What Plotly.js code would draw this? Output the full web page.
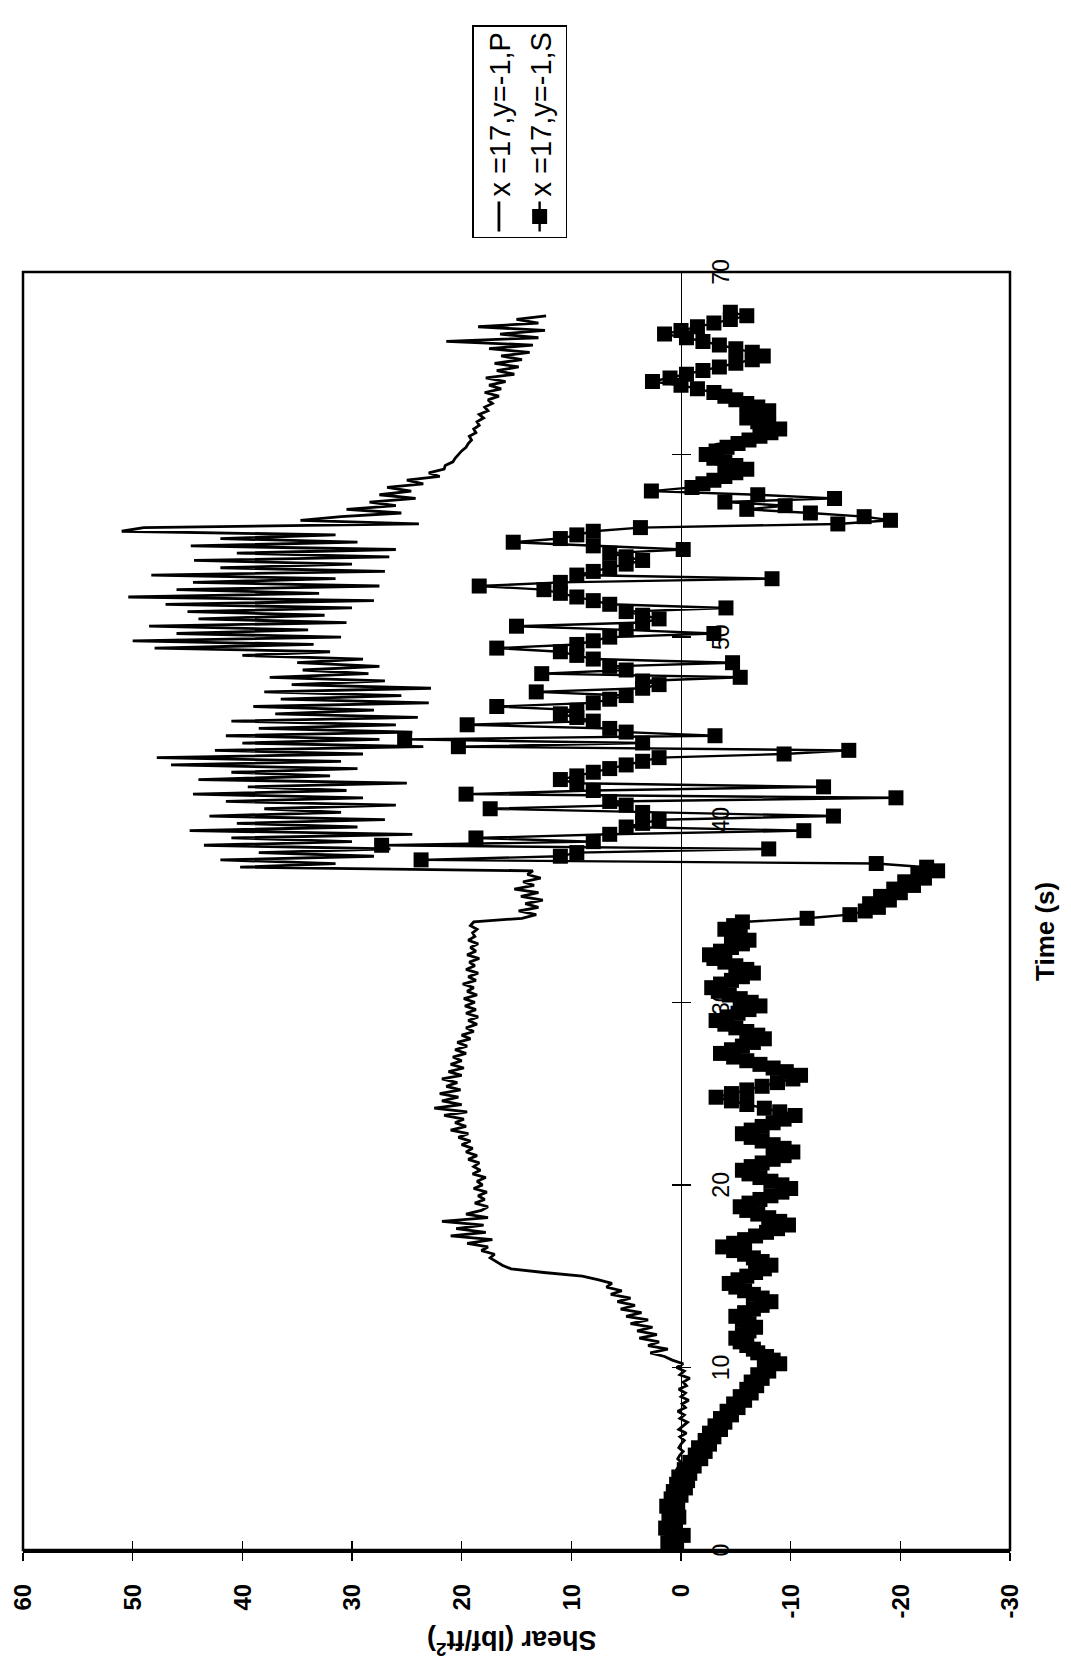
<!DOCTYPE html>
<html><head><meta charset="utf-8">
<script src="https://cdn.plot.ly/plotly-3.0.1.min.js"></script>
<style>
html,body{margin:0;padding:0;width:1071px;height:1663px;overflow:hidden;background:#fff;}
#chart{position:absolute;left:0;top:0;width:1663px;height:1071px;transform-origin:0 0;transform:translate(0px,1663px) rotate(-90deg);}
</style></head><body><div id="chart"></div>
<script>
// sampling of both series (s)
const timeStart = 0;
const timeStep = 0.2;

// series P: x =17, y=-1, P  (t = 0 .. 67.6 s)
const shearP = [
 0.5,0.6,0.4,0.7,0.5,0.3,0.6,0.8,0.5,0.4, 0.6,0.5,0.7,0.4,0.5,0.3,0.6,0.4,0.2,0.5,
 0.3,0.1,0.4,0.2,0.0,0.3,0.1,-0.2,0.2,0.0, -0.3,0.1,-0.5,0.2,-0.2,-0.6,0.1,-0.3,0.3,-0.4,
 -0.1,-0.7,0.0,-0.4,0.2,-0.5,-0.2,-0.8,0.1,-0.3, 0.4,-0.2,0.8,
 1.5,2.8,1.2,3.0,2.0,3.8,2.2,4.0,2.6,4.6, 3.0,5.0,3.6,5.5,4.2,5.8,4.6,6.4,5.4,6.8,
 6.3,7.5,9.0,12.5,15.5,
 16.3,16.8,17.4,17.0,18.2,17.6,19.5,17.2,21.0,17.8, 20.5,18.0,21.8,17.6,19.6,18.2,17.6,18.8,17.9,18.5,
 17.7,18.9,18.1,18.6,17.8,19.0,18.3,18.9,18.4,19.4, 18.6,19.6,19.0,20.0,19.2,20.3,19.4,21.0,19.6,20.6,
 19.8,21.6,19.5,22.5,20.0,21.8,20.3,22.0,20.1,21.4, 20.4,21.8,20.0,21.2,19.8,21.0,20.0,20.8,19.6,20.6,
 19.5,20.4,19.2,20.0,18.9,19.6,18.6,19.4,18.5,19.6, 18.7,19.7,18.8,19.8,18.6,19.5,18.9,19.9,18.7,19.4,
 18.5,19.6,18.8,19.3,18.4,19.5,18.7,19.2,18.5,19.4, 18.8,19.0,18.6,19.2,18.9,
 14.5,13.2,14.8,13.0,14.2,12.6,14.6,13.0,15.2,13.4,14.4,12.8,14.0,13.5,
 40.2,31.5,42.0,28.0,38.5,26.5,43.5,30.0,41.0,24.5, 44.8,29.5,40.5,27.0,43.0,31.0,38.0,26.0,41.5,29.0,
 44.5,30.5,39.5,25.0,44.0,32.0,41.0,29.5,46.5,31.0, 47.8,29.0,42.5,23.5,40.0,27.5,41.5,24.5,38.5,26.0,
 41.0,24.0,37.0,28.0,39.0,23.0,36.5,25.5,38.0,22.8, 35.5,27.0,37.5,28.5,34.5,27.5,35.0,29.0,40.0,32.0,
 48.0,33.5,50.0,31.0,46.0,34.0,48.5,30.5,44.0,32.5, 45.0,30.0,47.0,28.0,50.4,33.0,46.0,27.5,44.5,31.5,
 48.3,27.0,42.0,30.0,44.4,26.6,40.5,26.0,44.7,29.5, 42.0,31.5,51.0,49.0,
 23.9,34.7,31.0,25.5,30.5,26.0,28.4,24.2,27.5,24.6, 26.8,23.5,25.0,22.0,23.0,21.6,21.5,20.8,20.6,20.3,
 20.0,19.6,19.4,19.1,19.3,18.7,18.9,18.4,18.6,18.0, 18.4,17.6,17.9,17.2,17.6,16.6,17.9,16.4,17.5,16.0,
 17.8,15.2,16.8,14.8,17.0,14.5,16.4,13.8,17.5,13.5, 21.4,13.0,16.5,12.4,18.5,13.0,15.0,12.3
];

// series S: x =17, y=-1, S  (t = 0 .. 67.8 s)
const shearS = [
 1.0,0.4,1.2,0.6,-0.2,0.8,1.4,0.5,0.9,0.2, 1.1,0.6,1.3,0.3,0.9,0.0,0.7,-0.4,0.4,-0.6,
 0.2,-0.8,-0.3,-1.2,-0.8,-1.8,-1.3,-2.2,-1.6,-2.6, -2.2,-3.0,-2.6,-3.6,-3.1,-4.0,-3.6,-4.6,-4.2,-5.2,
 -4.8,-5.8,-5.4,-6.4,-6.0,-6.9,-6.4,-7.4,-7.0,-8.0, -7.6,-9.0,-8.4,-7.8,-7.0,
 -6.6,-6.0,-5.4,-5.0,-5.6,-6.2,-6.8,-6.2,-5.6,-5.0, -5.8,-6.6,-7.4,-8.2,-7.4,-6.6,-5.8,-5.0,-4.4,-5.2,
 -6.0,-6.8,-7.6,-8.2,-7.4,-6.6,-5.8,-4.8,-3.8,-4.8, -5.8,-6.8,-7.8,-8.8,-9.8,-9.0,-8.0,-7.0,-6.0,-5.4,
 -6.2,-7.2,-8.2,-9.2,-10.0,-9.2,-8.2,-7.2,-6.2,-5.6, -6.4,-7.4,-8.4,-9.4,-10.2,-9.4,-8.4,-7.4,-6.4,-5.6,
 -6.4,-7.4,-8.4,-9.4,-10.4,-9.0,-7.6,-6.0,-4.6,-3.2, -4.6,-6.0,-7.4,-8.8,-10.2,-10.9,-9.6,-8.4,-7.2,-6.0,
 -4.8,-3.6,-4.6,-5.6,-6.6,-7.6,-7.0,-6.0,-5.0,-4.0, -3.2,-4.2,-5.2,-6.2,-7.2,-6.4,-5.4,-4.4,-3.4,-2.8,
 -3.6,-4.6,-5.6,-6.6,-6.0,-5.0,-4.0,-3.0,-2.6,-3.6, -4.6,-5.6,-6.2,-5.4,-4.6,-4.0,-4.8,-5.6,
 -11.5,-15.4,-16.8,-18.0,-17.2,-19.0,-18.2,-20.0,-19.4,-21.2,-20.4,-22.2,-21.6,-23.4,-22.4,-17.8,
 23.7,11.0,9.5,-8.0,27.3,8.0,18.7,6.5,-11.2,5.0, 3.5,2.0,-13.9,3.5,17.4,5.0,6.5,-19.6,19.6,8.0,
 -13.0,9.5,11.0,9.5,8.0,6.5,5.0,3.5,2.0,-9.4, -15.3,20.3,3.5,25.2,-3.1,5.0,6.5,19.5,8.0,9.5,
 11.0,9.5,16.8,8.0,6.5,5.0,13.2,3.5,2.0,3.5, -5.4,12.7,5.0,6.5,-4.7,8.0,9.5,11.0,16.8,9.5,
 8.0,6.5,-3.0,5.0,15.0,3.5,2.0,3.5,5.0,-4.1, 6.5,8.0,9.5,11.0,12.5,18.4,11.0,-8.3,9.5,8.0,
 6.5,5.0,3.5,5.0,6.5,-0.2,8.0,15.3,11.0,9.5, 8.0,3.7,
 -14.3,-19.1,-16.7,-11.8,-6.0,-9.5,-4.0,-14.0,-7.0,2.7, -1.0,-2.0,-3.0,-4.0,-5.0,-6.0,-5.0,-4.0,-3.0,-2.3,
 -3.2,-4.2,-5.2,-6.2,-7.2,-8.2,-9.0,-8.0,-7.0,-6.0, -7.0,-8.0,-7.0,-6.0,-5.0,-4.0,-3.0,-1.5,0.0,2.6,
 1.0,-0.5,-2.0,-3.5,-5.0,-6.5,-7.5,-6.5,-5.0,-3.5, -2.0,-0.5,1.5,0.0,-1.5,-3.0,-4.5,-6.0,-4.5
];

const legendNames = ['x =17,y=-1,P', 'x =17,y=-1,S'];
const timeTicks = [0, 10, 20, 30, 40, 50, 60, 70];
const shearTicks = [-30, -20, -10, 0, 10, 20, 30, 40, 50, 60];
const timeTitle = 'Time (s)';
const shearTitle = 'Shear (lbf/ft<sup>2</sup>)';

const FONT = 'Liberation Sans, Arial, Helvetica, sans-serif';

const traces = [
  {type:'scatter', mode:'lines', name:legendNames[0], x0:timeStart, dx:timeStep, y:shearP,
   line:{color:'#000', width:2.8}},
  {type:'scatter', mode:'lines+markers', name:legendNames[1], x0:timeStart, dx:timeStep, y:shearS,
   line:{color:'#000', width:2.4}, marker:{symbol:'square', size:15, color:'#000'}},
  {type:'scatter', mode:'markers', x:[], y:[], xaxis:'x2', yaxis:'y2', showlegend:false, hoverinfo:'skip'}
];

const layout = {
  width:1663, height:1071,
  margin:{l:113, r:272, t:23, b:61, pad:0},
  paper_bgcolor:'#fff', plot_bgcolor:'#fff',
  font:{family:FONT, color:'#000'},
  showlegend:true,
  xaxis:{range:[0,70], tickvals:timeTicks, ticktext:timeTicks.map(String), anchor:'free', position:1/3,
         showline:true, linecolor:'#000', linewidth:1.2, ticks:'outside', ticklen:9, tickwidth:1.5, tickcolor:'#000',
         tickfont:{size:23, family:FONT, color:'#000'}, ticklabelstandoff:10,
         showgrid:false, zeroline:false, layer:'below traces'},
  xaxis2:{range:[0,70], tickvals:timeTicks, overlaying:'x', anchor:'free', position:1/3,
         showline:false, ticks:'inside', ticklen:9, tickwidth:1.5, tickcolor:'#000', showticklabels:false,
         showgrid:false, zeroline:false, layer:'below traces'},
  yaxis:{range:[-30,60], tickvals:shearTicks, ticktext:shearTicks.map(String),
         showline:true, linecolor:'#000', linewidth:3, ticks:'outside', ticklen:8, tickwidth:1.5, tickcolor:'#000',
         tickfont:{size:24, family:FONT, color:'#000', weight:'bold'}, ticklabelstandoff:18,
         showgrid:false, zeroline:false},
  yaxis2:{range:[-30,60], tickvals:shearTicks, overlaying:'y', anchor:'free', position:0,
         showline:false, ticks:'inside', ticklen:8, tickwidth:1.5, tickcolor:'#000', showticklabels:false,
         showgrid:false, zeroline:false},
  legend:{x:1.0266, xanchor:'left', y:0.545, yanchor:'top', bordercolor:'#000', borderwidth:1.5,
          bgcolor:'#fff', font:{size:29, family:FONT, color:'#000'}, tracegroupgap:0},
  shapes:[{type:'rect', xref:'paper', yref:'paper', x0:0, x1:1, y0:0, y1:1,
           line:{color:'#000', width:2.5}, layer:'above'}],
  annotations:[
    {text:'<b>'+timeTitle+'</b>', xref:'paper', yref:'paper', x:0.4843, y:0, yshift:-35,
     xanchor:'center', yanchor:'middle', showarrow:false, font:{size:26, family:FONT, color:'#000'}},
    {text:'<b>'+shearTitle+'</b>', xref:'paper', yref:'paper', x:0, xshift:-93, y:0.505,
     xanchor:'center', yanchor:'middle', textangle:-90, showarrow:false, font:{size:27, family:FONT, color:'#000'}}
  ]
};

Plotly.newPlot('chart', traces, layout, {staticPlot:true, displayModeBar:false});
</script></body></html>
